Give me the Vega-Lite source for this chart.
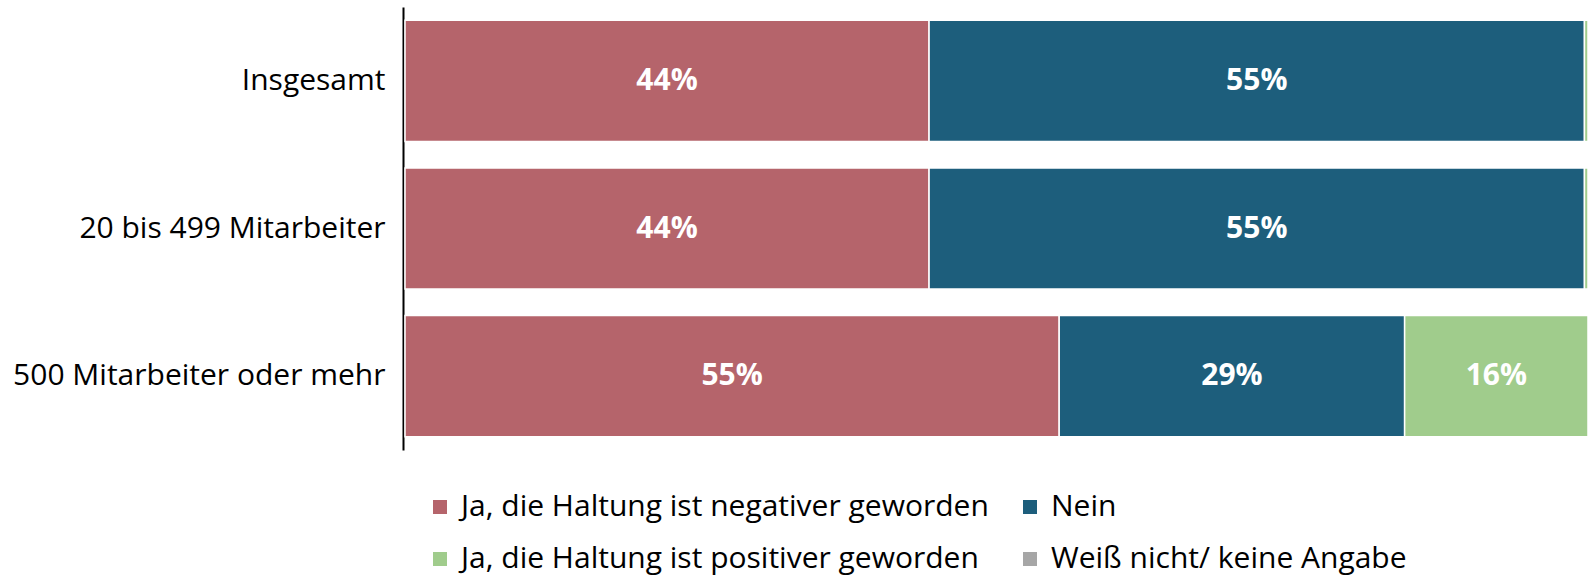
{
  "$schema": "https://vega.github.io/schema/vega-lite/v6.json",
  "autosize": {"type": "none"},
  "width": 1183,
  "height": 443,
  "padding": {"left": 405, "top": 7, "right": 0, "bottom": 127},
  "background": "white",
  "config": {"view": {"stroke": null}, "font": "Open Sans"},
  "data": {
    "values": [
      {"gruppe": "Insgesamt", "antwort": "Ja, die Haltung ist negativer geworden", "wert": 44.3, "label": "44%"},
      {"gruppe": "Insgesamt", "antwort": "Nein", "wert": 55.4, "label": "55%"},
      {"gruppe": "Insgesamt", "antwort": "Ja, die Haltung ist positiver geworden", "wert": 0.3, "label": ""},
      {"gruppe": "20 bis 499 Mitarbeiter", "antwort": "Ja, die Haltung ist negativer geworden", "wert": 44.3, "label": "44%"},
      {"gruppe": "20 bis 499 Mitarbeiter", "antwort": "Nein", "wert": 55.4, "label": "55%"},
      {"gruppe": "20 bis 499 Mitarbeiter", "antwort": "Ja, die Haltung ist positiver geworden", "wert": 0.3, "label": ""},
      {"gruppe": "500 Mitarbeiter oder mehr", "antwort": "Ja, die Haltung ist negativer geworden", "wert": 55.3, "label": "55%"},
      {"gruppe": "500 Mitarbeiter oder mehr", "antwort": "Nein", "wert": 29.2, "label": "29%"},
      {"gruppe": "500 Mitarbeiter oder mehr", "antwort": "Ja, die Haltung ist positiver geworden", "wert": 15.5, "label": "16%"}
    ]
  },
  "transform": [
    {"calculate": "indexof(['Ja, die Haltung ist negativer geworden','Nein','Ja, die Haltung ist positiver geworden','Weiß nicht/ keine Angabe'], datum.antwort)", "as": "ord"}
  ],
  "encoding": {
    "y": {
      "field": "gruppe",
      "type": "nominal",
      "sort": ["Insgesamt", "20 bis 499 Mitarbeiter", "500 Mitarbeiter oder mehr"],
      "scale": {"paddingInner": 0.18, "paddingOuter": 0.09},
      "axis": {
        "title": null,
        "ticks": false,
        "offset": 2,
        "domainColor": "black",
        "domainWidth": 2,
        "labelFontSize": 30,
        "labelColor": "black",
        "labelPadding": 18,
        "labelLimit": 400
      }
    },
    "x": {
      "field": "wert",
      "type": "quantitative",
      "stack": "zero",
      "scale": {"domain": [0, 100], "nice": false},
      "axis": null
    },
    "order": {"field": "ord", "type": "quantitative"}
  },
  "layer": [
    {
      "mark": {"type": "bar", "stroke": "white", "strokeWidth": 1.5},
      "encoding": {
        "color": {
          "field": "antwort",
          "type": "nominal",
          "scale": {
            "domain": ["Ja, die Haltung ist negativer geworden", "Nein", "Ja, die Haltung ist positiver geworden", "Weiß nicht/ keine Angabe"],
            "range": ["#b5646b", "#1d5e7c", "#a0cc8c", "#a6a6a6"]
          },
          "legend": {
            "title": null,
            "orient": "none",
            "legendX": 20,
            "legendY": 485,
            "columns": 2,
            "direction": "horizontal",
            "symbolType": "square",
            "symbolSize": 196,
            "symbolStrokeWidth": 0,
            "labelFontSize": 30,
            "labelColor": "black",
            "labelLimit": 800,
            "labelOffset": 6,
            "columnPadding": 26,
            "rowPadding": 22
          }
        }
      }
    },
    {
      "transform": [{"filter": "datum.label != ''"}],
      "mark": {"type": "text", "color": "white", "fontSize": 30, "fontWeight": "bold"},
      "encoding": {
        "x": {"field": "wert", "type": "quantitative", "stack": "zero", "bandPosition": 0.5},
        "text": {"field": "label"}
      }
    }
  ]
}
